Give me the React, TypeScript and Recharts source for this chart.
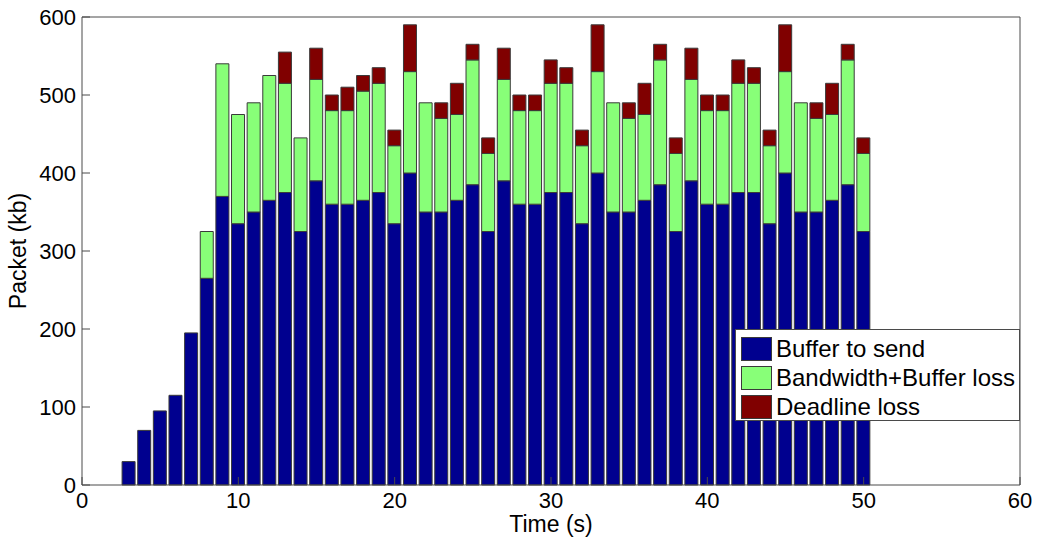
import { BarChart, Bar, XAxis, YAxis, Legend } from 'recharts';

// seconds
const times = [
  3, 4, 5, 6, 7, 8, 9, 10, 11, 12, 13, 14, 15, 16, 17, 18, 19, 20, 21, 22, 23, 24, 25, 26,
  27, 28, 29, 30, 31, 32, 33, 34, 35, 36, 37, 38, 39, 40, 41, 42, 43, 44, 45, 46, 47, 48, 49, 50,
];

// kb, per second
const bufferToSend = [
  30, 70, 95, 115, 195, 265, 370, 335, 350, 365, 375, 325, 390, 360, 360, 365, 375, 335, 400, 350, 350, 365, 385, 325,
  390, 360, 360, 375, 375, 335, 400, 350, 350, 365, 385, 325, 390, 360, 360, 375, 375, 335, 400, 350, 350, 365, 385, 325,
];
const bandwidthBufferLoss = [
  0, 0, 0, 0, 0, 60, 170, 140, 140, 160, 140, 120, 130, 120, 120, 140, 140, 100, 130, 140, 120, 110, 160, 100,
  130, 120, 120, 140, 140, 100, 130, 140, 120, 110, 160, 100, 130, 120, 120, 140, 140, 100, 130, 140, 120, 110, 160, 100,
];
const deadlineLoss = [
  0, 0, 0, 0, 0, 0, 0, 0, 0, 0, 40, 0, 40, 20, 30, 20, 20, 20, 60, 0, 20, 40, 20, 20,
  40, 20, 20, 30, 20, 20, 60, 0, 20, 40, 20, 20, 40, 20, 20, 30, 20, 20, 60, 0, 20, 40, 20, 20,
];

const seriesNames = ['Buffer to send', 'Bandwidth+Buffer loss', 'Deadline loss'];

const xTicks = [0, 10, 20, 30, 40, 50, 60];
const yTicks = [0, 100, 200, 300, 400, 500, 600];

const data = times.map((t, i) => ({
  t,
  buffer: bufferToSend[i],
  bandwidth: bandwidthBufferLoss[i],
  deadline: deadlineLoss[i],
}));

const AXIS = '#4a4a4a';
const EDGE = '#3a3a3a';
const FONT = '"Liberation Sans", Arial, sans-serif';
const tickStyle = { fontSize: 22, fontFamily: FONT, fill: '#000' };

function LegendBox({ payload }: any) {
  // keep the plotting order, recharts sorts by name otherwise
  const items = seriesNames
    .map((n) => (payload ?? []).find((p: any) => p.value === n))
    .filter(Boolean);
  return (
    <div
      style={{
        boxSizing: 'border-box',
        width: 285,
        height: 92,
        border: `1px solid ${AXIS}`,
        background: '#fff',
        padding: '4px 0 0 5px',
        fontFamily: FONT,
        fontSize: 24,
        color: '#000',
      }}
    >
      {items.map((p: any) => (
        <div key={p.value} style={{ display: 'flex', alignItems: 'center', height: 29 }}>
          <span
            style={{
              display: 'inline-block',
              boxSizing: 'border-box',
              width: 31,
              height: 24,
              background: p.color,
              border: `1px solid ${EDGE}`,
              marginRight: 4,
            }}
          />
          <span style={{ lineHeight: '24px' }}>{p.value}</span>
        </div>
      ))}
    </div>
  );
}

export default function App() {
  return (
    <div style={{ position: 'absolute', left: 0, top: 0, background: '#fff' }}>
      <BarChart
        width={1037}
        height={540}
        data={data}
        margin={{ top: 16, right: 16, bottom: 0, left: 0 }}
      >
        <XAxis
          dataKey="t"
          type="number"
          domain={[0, 60]}
          ticks={xTicks}
          allowDataOverflow
          height={55}
          tickSize={-8}
          tickMargin={15}
          stroke={AXIS}
          tick={tickStyle}
          label={{
            value: 'Time (s)',
            position: 'insideBottom',
            offset: 8,
            style: { fontSize: 23, fontFamily: FONT, fill: '#000' },
          }}
        />
        <XAxis
          xAxisId="top"
          dataKey="t"
          type="number"
          orientation="top"
          domain={[0, 60]}
          ticks={xTicks}
          height={1}
          tickSize={-8}
          tick={false}
          stroke={AXIS}
        />
        <YAxis
          type="number"
          domain={[0, 600]}
          ticks={yTicks}
          width={82}
          tickSize={-8}
          tickMargin={14}
          stroke={AXIS}
          tick={tickStyle}
          label={{
            value: 'Packet (kb)',
            angle: -90,
            position: 'insideLeft',
            offset: 18,
            style: { fontSize: 23, fontFamily: FONT, fill: '#000', textAnchor: 'middle' },
          }}
        />
        <YAxis
          yAxisId="right"
          orientation="right"
          type="number"
          domain={[0, 600]}
          ticks={yTicks}
          width={1}
          tickSize={-8}
          tick={false}
          stroke={AXIS}
        />
        <Legend
          layout="horizontal"
          verticalAlign="middle"
          align="center"
          content={<LegendBox />}
          wrapperStyle={{ left: 735, top: 329, width: 285, height: 92 }}
        />
        <Bar dataKey="buffer" name={seriesNames[0]} stackId="s" barSize={13} fill="#00008f" stroke={EDGE} strokeWidth={1} isAnimationActive={false} />
        <Bar dataKey="bandwidth" name={seriesNames[1]} stackId="s" barSize={13} fill="#88ff78" stroke={EDGE} strokeWidth={1} isAnimationActive={false} />
        <Bar dataKey="deadline" name={seriesNames[2]} stackId="s" barSize={13} fill="#800000" stroke={EDGE} strokeWidth={1} isAnimationActive={false} />
      </BarChart>
    </div>
  );
}
